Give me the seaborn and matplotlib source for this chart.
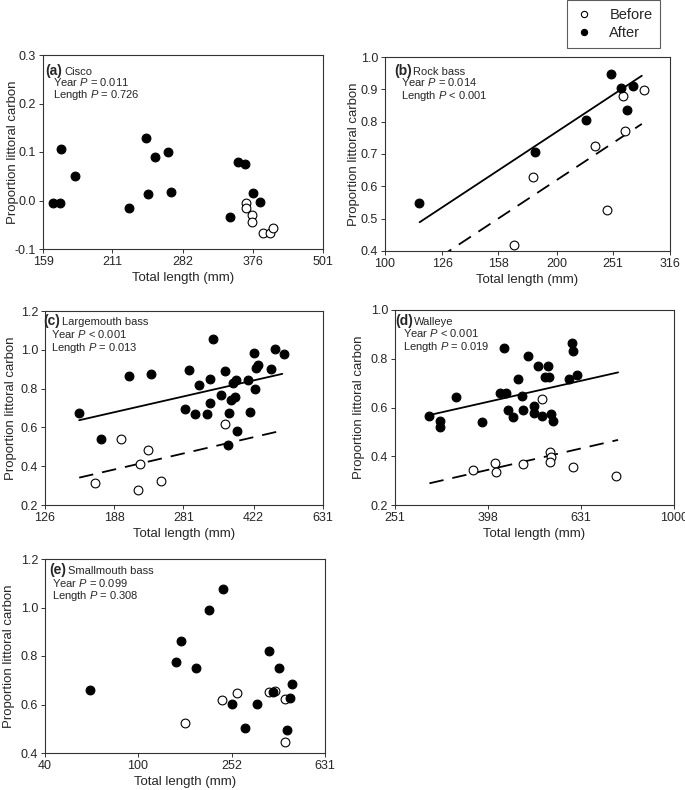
import numpy as np
import pandas as pd
import matplotlib
matplotlib.use("Agg")
import matplotlib.pyplot as plt
from matplotlib.lines import Line2D
from matplotlib.ticker import FixedLocator, FixedFormatter, NullLocator
from matplotlib.transforms import offset_copy
import seaborn as sns

# (a) Cisco
cisco_after_len = [165.6, 170.4, 171, 181, 226, 242.6, 245, 251.8, 265, 269, 342, 353, 364, 375.6, 387.5]
cisco_after_plc = [-0.006, -0.005, 0.107, 0.051, -0.016, 0.128, 0.014, 0.089, 0.100, 0.017, -0.035, 0.080, 0.075, 0.016, -0.003]
cisco_before_len = [366, 365.5, 374.6, 375, 391, 403.5, 408]
cisco_before_plc = [-0.005, -0.015, -0.029, -0.045, -0.067, -0.067, -0.057]

# (b) Rock bass
rock_after_len = [114.7, 183, 225, 249.5, 259, 266, 272]
rock_after_plc = [0.547, 0.707, 0.804, 0.948, 0.903, 0.837, 0.910]
rock_before_len = [168, 182, 233, 245, 261, 264, 285]
rock_before_plc = [0.418, 0.629, 0.726, 0.527, 0.879, 0.771, 0.899]
rock_fit_len = [115, 282]
rock_fit_after = [0.489, 0.942]
rock_fit_before = [0.340, 0.793]

# (c) Largemouth bass
lmb_after_len = [153.6, 174.8, 204.8, 233.5, 283, 291, 301, 307, 322, 328, 328, 334, 349.6, 357, 365,
                 371, 375, 378.5, 381, 383.5, 363, 409.5, 414, 423, 425.6, 429, 434, 467, 478, 503]
lmb_after_plc = [0.672, 0.538, 0.867, 0.876, 0.694, 0.895, 0.668, 0.816, 0.668, 0.847, 0.727, 1.056, 0.769, 0.890, 0.672,
                 0.742, 0.830, 0.757, 0.842, 0.581, 0.507, 0.842, 0.680, 0.984, 0.797, 0.905, 0.922, 0.900, 1.003, 0.977]
lmb_before_len = [168.5, 196, 216.5, 219, 228.6, 246.5, 358.4]
lmb_before_plc = [0.311, 0.540, 0.275, 0.413, 0.483, 0.323, 0.620]
lmb_fit_len = [153.6, 498.5]
lmb_fit_after = [0.637, 0.876]
lmb_fit_before = [0.341, 0.584]

# (d) Walleye
wal_after_len = [297.7, 313.8, 313.8, 339, 387, 423, 435, 439, 430, 450, 461.5, 471, 474, 484, 500, 500,
                 508.6, 518.8, 529, 539, 536, 543, 549.6, 593, 602, 606.7, 618]
wal_after_plc = [0.565, 0.545, 0.519, 0.644, 0.542, 0.658, 0.658, 0.591, 0.845, 0.562, 0.717, 0.649, 0.590, 0.813, 0.605, 0.579,
                 0.770, 0.564, 0.727, 0.727, 0.770, 0.572, 0.546, 0.716, 0.865, 0.832, 0.733]
wal_before_len = [368.8, 412, 414.8, 472.4, 520.6, 540.7, 544, 540.7, 607, 749.5]
wal_before_plc = [0.344, 0.371, 0.334, 0.370, 0.636, 0.416, 0.398, 0.378, 0.355, 0.318]
wal_fit_len = [297.7, 758]
wal_fit_after = [0.569, 0.744]
wal_fit_before = [0.289, 0.467]

# (e) Smallmouth bass
smb_after_len = [62.1, 146, 152, 176.6, 201, 231.4, 253, 286.5, 322.6, 362, 379, 399.5, 435, 445.4, 455.7]
smb_after_plc = [0.660, 0.775, 0.860, 0.752, 0.988, 1.076, 0.603, 0.503, 0.602, 0.821, 0.650, 0.749, 0.493, 0.625, 0.686]
smb_before_len = [158.5, 228.4, 265.7, 364.4, 385.3, 425.2, 425.2]
smb_before_plc = [0.525, 0.619, 0.649, 0.653, 0.656, 0.621, 0.445]

sns.set_style("ticks")
plt.rcParams['font.family'] = ['Liberation Sans', 'DejaVu Sans']
plt.rcParams['mathtext.fontset'] = 'custom'
plt.rcParams['mathtext.rm'] = 'Liberation Sans'
plt.rcParams['mathtext.it'] = 'Liberation Sans:italic'

fig = plt.figure(figsize=(6.85, 7.9), dpi=100)
W, H = 685.0, 790.0
AX_COL = '#333333'

def add_ax(l, t, r, b):
   return fig.add_axes([l / W, 1 - b / H, (r - l) / W, (b - t) / H])

def px_text(ax, dx, dy, s, **kw):
   # place text dx px right of the left spine, dy px below the top spine (centre)
   tr = offset_copy(ax.transAxes, fig=fig, x=dx * 0.72, y=-dy * 0.72, units='points')
   ax.text(0, 1, s, transform=tr, va='center', ha='left', **kw)

def panel(ax, letter, name, year_p, len_p, after_x, after_y, before_x, before_y,
          xlim, xticks, ylim, yticks, lay, fit=None):
   df = pd.concat([
      pd.DataFrame({'len': before_x, 'plc': before_y, 'period': 'Before'}),
      pd.DataFrame({'len': after_x, 'plc': after_y, 'period': 'After'}),
   ])
   ax.set_xscale('log')
   sns.scatterplot(data=df[df.period == 'Before'], x='len', y='plc', ax=ax, color='white',
                   edgecolor='black', linewidth=0.8, s=40, zorder=3, legend=False)
   sns.scatterplot(data=df[df.period == 'After'], x='len', y='plc', ax=ax, color='black',
                   edgecolor='black', linewidth=0.8, s=40, zorder=4, legend=False)
   if fit is not None:
      fx, fa, fb = fit
      sns.lineplot(x=fx, y=fa, ax=ax, color='black', lw=1.3, zorder=2)
      ax.plot(fx, fb, color='black', lw=1.3, dashes=(8, 5), zorder=2)
   ax.set_xlim(*xlim)
   ax.set_ylim(*ylim)
   ax.xaxis.set_major_locator(FixedLocator(xticks))
   ax.xaxis.set_major_formatter(FixedFormatter([str(t) for t in xticks]))
   ax.xaxis.set_minor_locator(NullLocator())
   ax.set_yticks(yticks)
   ax.set_yticklabels(['%.1f' % t for t in yticks])
   ax.tick_params(direction='out', length=3, width=0.7, color=AX_COL, labelsize=9, pad=2)
   for s in ax.spines.values():
      s.set_linewidth(0.8)
      s.set_color(AX_COL)
   ax.set_xlabel('Total length (mm)', fontsize=9.5, labelpad=3)
   ax.set_ylabel('Proportion littoral carbon', fontsize=9.5)
   bb = ax.get_position()
   ylab_px = lay[0]
   ax.yaxis.set_label_coords((ylab_px + 7) / (bb.width * W), 0.5)
   lx, ly, tx, yy, ll = lay[1:]
   px_text(ax, lx, ly, letter, fontsize=10, fontweight='bold')
   px_text(ax, lx + 19, ly + 1, name, fontsize=8)
   px_text(ax, tx, yy, 'Year $P$ ' + year_p, fontsize=8)
   px_text(ax, tx, ll, 'Length $P$ ' + len_p, fontsize=8)

# layout per panel: ylabel centre offset (px from left spine), letter x, letter y, text x, year y, length y
ax_a = add_ax(43, 55, 323, 249)
panel(ax_a, '(a)', 'Cisco', '= 0.011', '= 0.726', cisco_after_len, cisco_after_plc,
      cisco_before_len, cisco_before_plc, (159, 501), [159, 211, 282, 376, 501],
      (-0.1, 0.3), [-0.1, 0.0, 0.1, 0.2, 0.3], (-31, 2, 16, 10, 27, 40))

ax_b = add_ax(385, 57, 670, 251)
panel(ax_b, '(b)', 'Rock bass', '= 0.014', '< 0.001', rock_after_len, rock_after_plc,
      rock_before_len, rock_before_plc, (100, 316), [100, 126, 158, 200, 251, 316],
      (0.4, 1.0), [0.4, 0.5, 0.6, 0.7, 0.8, 0.9, 1.0], (-32, 9, 14, 16, 25, 39),
      fit=(rock_fit_len, rock_fit_after, rock_fit_before))

ax_c = add_ax(45, 311, 323, 505)
panel(ax_c, '(c)', 'Largemouth bass', '< 0.001', '= 0.013', lmb_after_len, lmb_after_plc,
      lmb_before_len, lmb_before_plc, (126, 631), [126, 188, 281, 422, 631],
      (0.2, 1.2), [0.2, 0.4, 0.6, 0.8, 1.0, 1.2], (-35, -2, 10, 6, 23, 37),
      fit=(lmb_fit_len, lmb_fit_after, lmb_fit_before))

ax_d = add_ax(395, 310, 674, 505)
panel(ax_d, '(d)', 'Walleye', '< 0.001', '= 0.019', wal_after_len, wal_after_plc,
      wal_before_len, wal_before_plc, (251, 1000), [251, 398, 631, 1000],
      (0.2, 1.0), [0.2, 0.4, 0.6, 0.8, 1.0], (-37, 0, 11, 8, 23, 37),
      fit=(wal_fit_len, wal_fit_after, wal_fit_before))

ax_e = add_ax(45, 559, 325, 753)
panel(ax_e, '(e)', 'Smallmouth bass', '= 0.099', '= 0.308', smb_after_len, smb_after_plc,
      smb_before_len, smb_before_plc, (40, 631), [40, 100, 252, 631],
      (0.4, 1.2), [0.4, 0.6, 0.8, 1.0, 1.2], (-37, 4, 11, 7, 24, 37))

handles = [Line2D([], [], ls='none', marker='o', ms=4.5, mfc='white', mec='black', mew=0.8),
           Line2D([], [], ls='none', marker='o', ms=4.5, mfc='black', mec='black', mew=0.8)]
leg = fig.legend(handles, ['Before', 'After'], loc='upper left',
                 bbox_to_anchor=(567 / W, 1.0), fontsize=10.5, frameon=True,
                 fancybox=False, edgecolor=AX_COL, handletextpad=1.15, borderpad=0.55,
                 borderaxespad=0, labelspacing=0.3, handlelength=1.2)
leg.get_frame().set_linewidth(0.8)

fig.savefig('out.png', dpi=100)
